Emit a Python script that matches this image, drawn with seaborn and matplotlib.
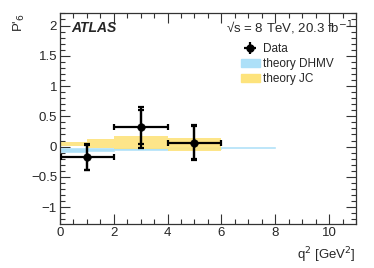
import numpy as np
import matplotlib
matplotlib.use("Agg")
import matplotlib.pyplot as plt
from matplotlib.patches import Patch
from matplotlib.ticker import MultipleLocator
import seaborn as sns

# data points (q2 bins)
q2_centre = [1.0, 3.0, 5.0]
q2_lo = [0.04, 2.0, 4.0]
q2_hi = [2.0, 4.0, 6.0]
p6 = [-0.17, 0.32, 0.066]
stat_up = [0.20, 0.29, 0.28]
stat_dn = [0.21, 0.28, 0.27]
tot_up = [0.21, 0.33, 0.29]
tot_dn = [0.22, 0.34, 0.28]

# theory DHMV band
dhmv_edges = [0.04, 1.0, 2.0, 4.0, 6.0, 8.0]
dhmv_lo = [-0.09, -0.08, -0.06, -0.035, -0.025]
dhmv_hi = [-0.03, -0.03, -0.02, -0.01, -0.005]

# theory JC band
jc_edges = [0.04, 1.0, 2.0, 4.0, 6.0]
jc_lo = [0.01, -0.02, -0.045, -0.08]
jc_hi = [0.076, 0.13, 0.17, 0.14]

sns.set_style("ticks")
plt.rcParams['font.family'] = ['Liberation Sans', 'DejaVu Sans']

fig = plt.figure(figsize=(3.74, 2.68), dpi=100)
ax = fig.add_axes([0.160, 0.164, 0.792, 0.786])

blue = '#ade0f8'
yellow = '#fde37c'

ax.fill_between(dhmv_edges, dhmv_lo + [dhmv_lo[-1]], dhmv_hi + [dhmv_hi[-1]],
                step='post', color=blue, lw=0.4, zorder=1)
ax.fill_between(jc_edges, jc_lo + [jc_lo[-1]], jc_hi + [jc_hi[-1]],
                step='post', color=yellow, lw=0, alpha=0.9, zorder=2)

xerr = [np.subtract(q2_centre, q2_lo), np.subtract(q2_hi, q2_centre)]
ax.errorbar(q2_centre, p6, xerr=xerr, yerr=[tot_dn, tot_up], fmt='none',
            ecolor='black', elinewidth=1.6, capsize=2.5, capthick=1.6, zorder=4)
ax.errorbar(q2_centre, p6, yerr=[stat_dn, stat_up], fmt='none',
            ecolor='black', elinewidth=1.6, capsize=2.5, capthick=1.6, zorder=4)
sns.scatterplot(x=q2_centre, y=p6, color='black', s=30, edgecolor='black',
                ax=ax, zorder=5, legend=False)

ax.set_xlim(0, 11)
ax.set_ylim(-1.28, 2.2)
ax.xaxis.set_major_locator(MultipleLocator(2))
ax.xaxis.set_minor_locator(MultipleLocator(0.5))
ax.yaxis.set_major_locator(MultipleLocator(0.5))
ax.yaxis.set_minor_locator(MultipleLocator(0.1))
ax.set_yticks([-1, -0.5, 0, 0.5, 1, 1.5, 2])
ax.set_yticklabels(['\u22121', '\u22120.5', '0', '0.5', '1', '1.5', '2'])
ax.tick_params(which='both', direction='in', top=True, right=True,
               labelsize=9.5, pad=2, width=0.8, color='#333333')
ax.tick_params(which='major', length=7)
ax.tick_params(which='minor', length=3.5)
for s in ax.spines.values():
    s.set_linewidth(0.9)
    s.set_color('#333333')

ax.set_xlabel('q$^{2}$ [GeV$^{2}$]', fontsize=9.5, loc='right', labelpad=5)
ax.set_ylabel("P'$_{6}$", fontsize=9.5, loc='top', labelpad=3)

ax.text(0.04, 0.93, 'ATLAS', transform=ax.transAxes, fontsize=10,
        fontweight='bold', fontstyle='italic', va='center')
ax.text(0.99, 0.93, '\u221as = 8 TeV, 20.3 fb$^{-1}$',
        transform=ax.transAxes, fontsize=9.5, ha='right', va='center')

data_handle = ax.errorbar([], [], xerr=[], yerr=[], fmt='o', color='black',
                          ms=5, elinewidth=1.6)
handles = [data_handle, Patch(color=blue), Patch(color=yellow)]
labels = ['Data', 'theory DHMV', 'theory JC']
ax.legend(handles, labels, loc='upper left', bbox_to_anchor=(0.595, 0.88),
          frameon=False, fontsize=8.5, handlelength=1.6, handleheight=0.7,
          labelspacing=0.25, handletextpad=0.3, borderaxespad=0)

fig.savefig('out.png', dpi=100)
